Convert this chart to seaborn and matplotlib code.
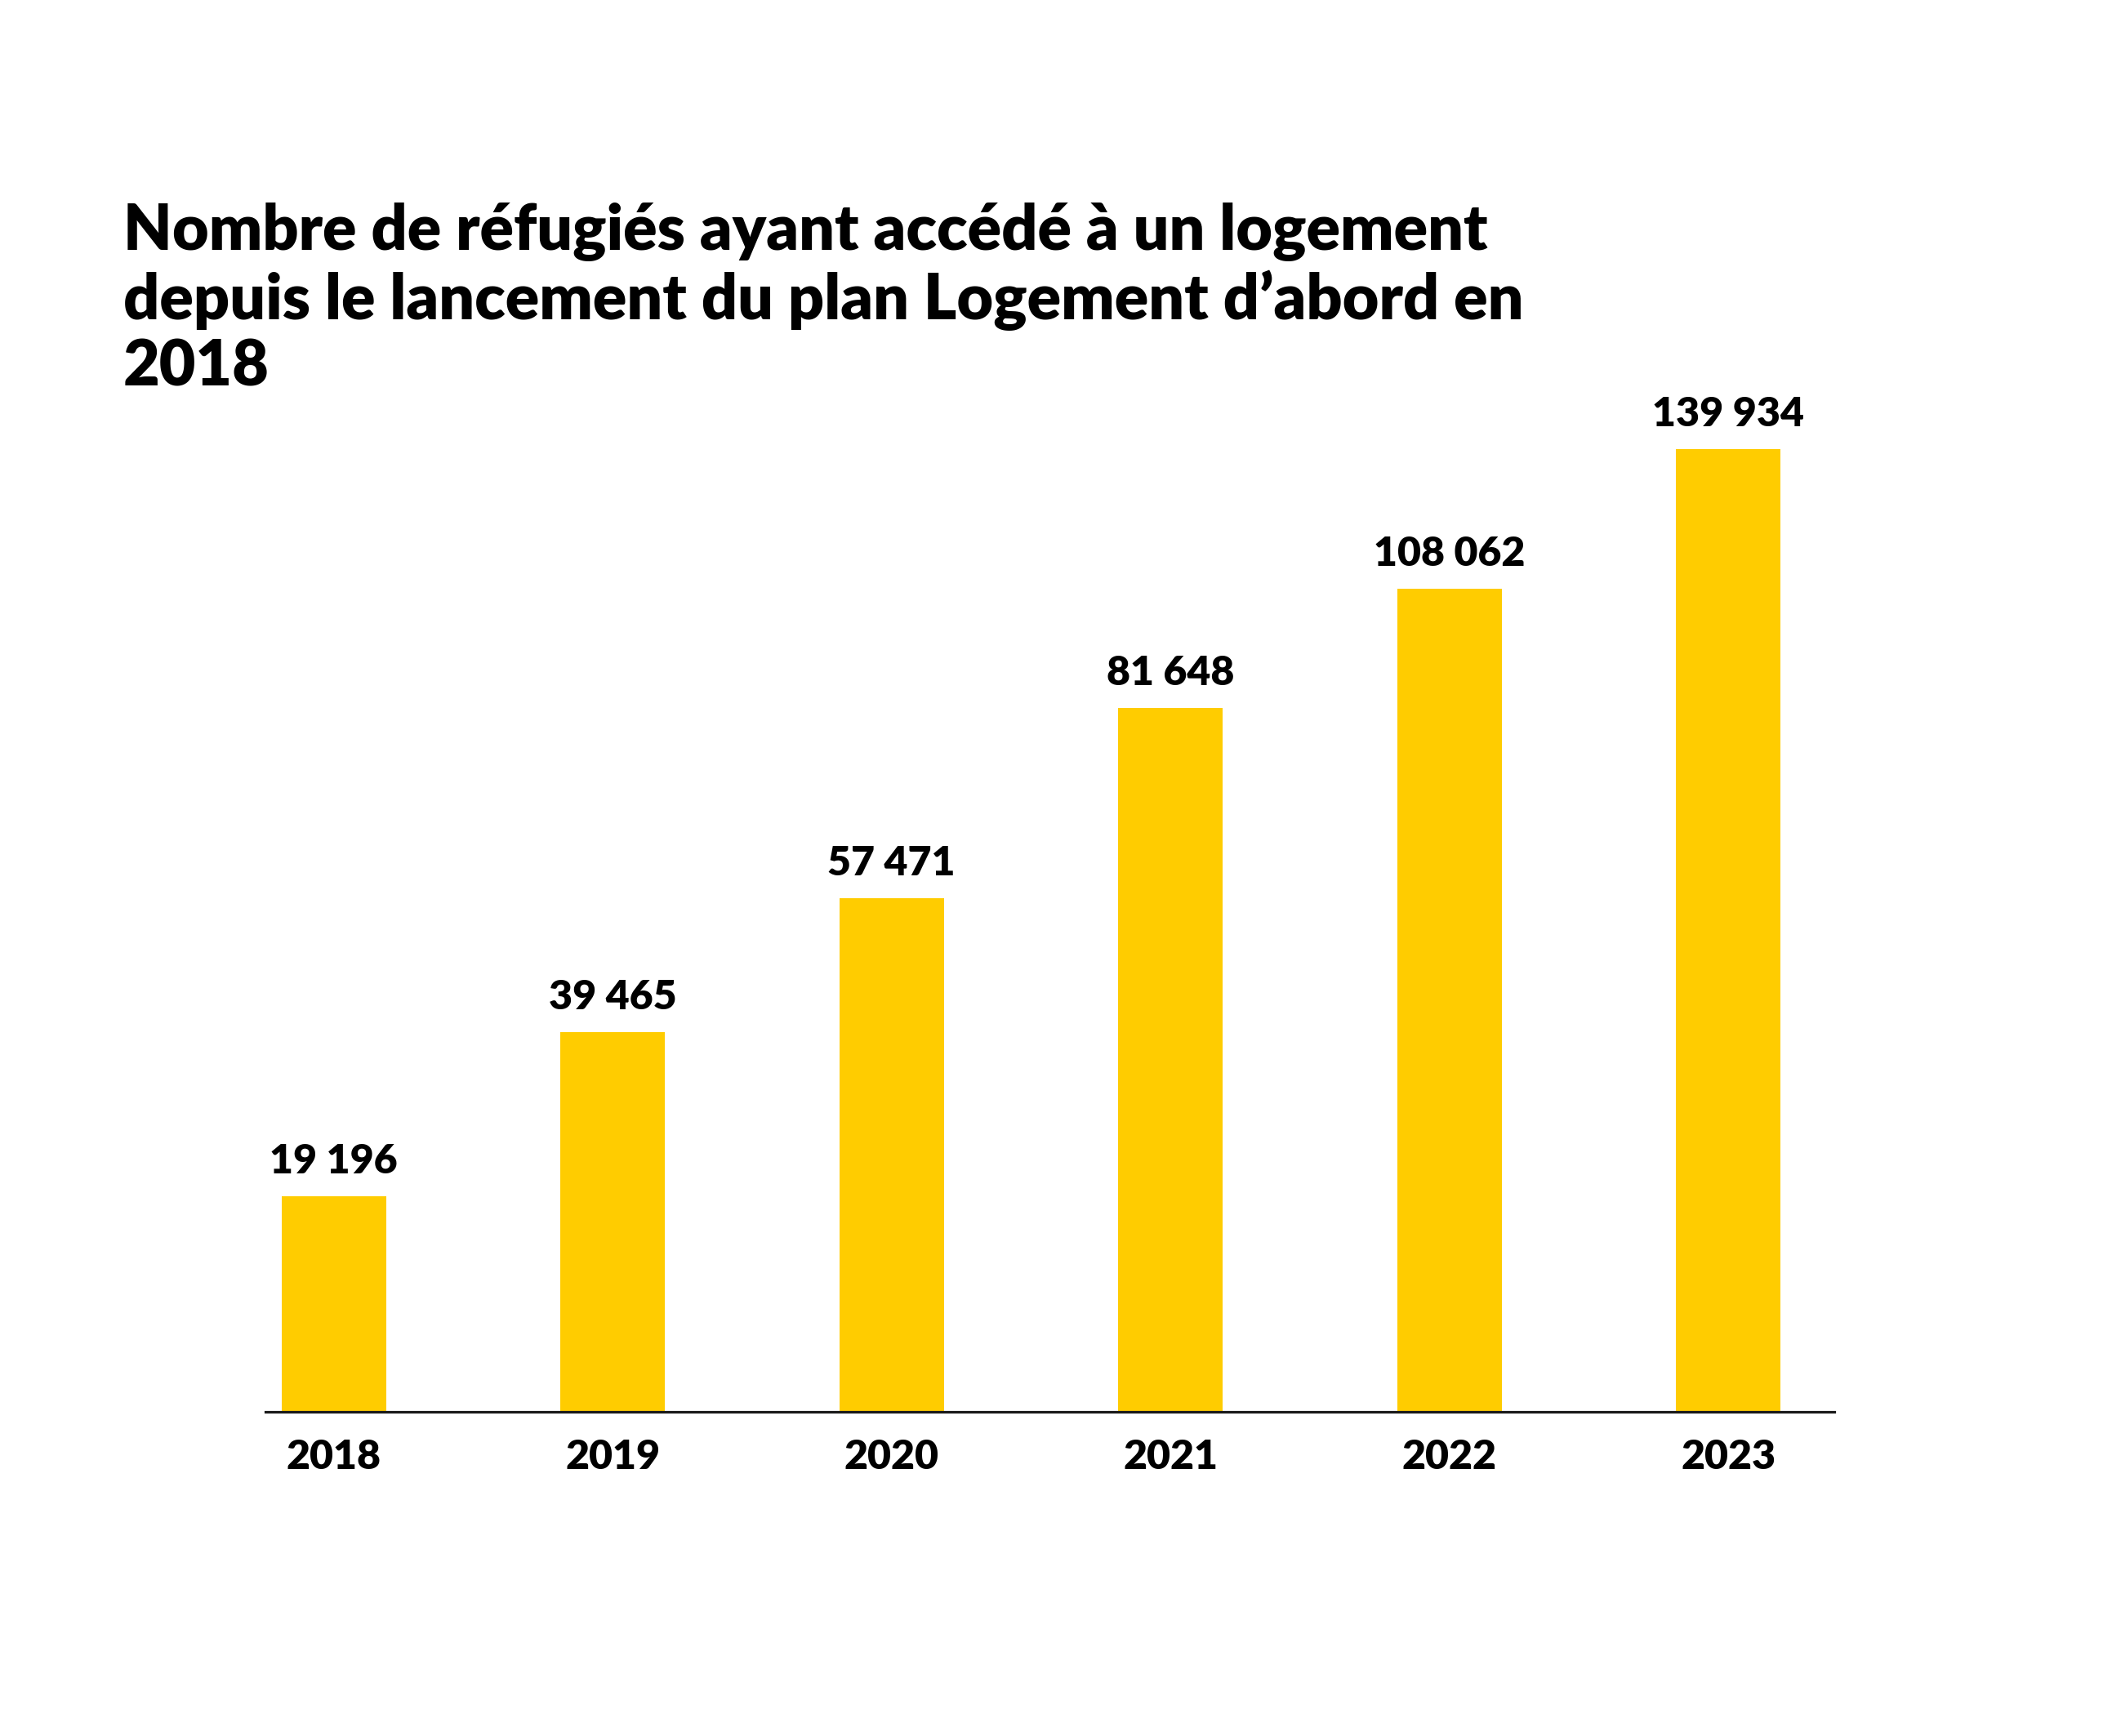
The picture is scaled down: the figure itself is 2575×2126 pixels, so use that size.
import matplotlib
matplotlib.use("Agg")
import matplotlib.pyplot as plt
import seaborn as sns
import pandas as pd

# --- data -------------------------------------------------------------
years = ["2018", "2019", "2020", "2021", "2022", "2023"]
values = [19196, 39465, 57471, 81648, 108062, 139934]
# bar heights as drawn in the reference (not proportional to the labels),
# expressed in the same units, with the 2023 bar = 139 934
bar_heights = [31330, 55190, 74650, 102310, 119640, 139934]
title = ("Nombre de réfugiés ayant accédé à un logement\n"
         "depuis le lancement du plan Logement d’abord en\n"
         "2018")

def fr(n):
    return f"{n:,}".replace(",", " ")

sns.set_theme(style="white")
plt.rcParams["font.family"] = ["Lato", "DejaVu Sans"]

W, H = 2575, 2126
DPI = 100
fig = plt.figure(figsize=(W / DPI, H / DPI), dpi=DPI, facecolor="white")

# axes in pixel coordinates
left, right, base, top = 325, 2246, 1729, 400
ax = fig.add_axes([left / W, (H - base) / H, (right - left) / W, (base - top) / H])

df = pd.DataFrame({"year": years, "height": bar_heights, "value": values})
sns.barplot(data=df, x="year", y="height", color="#FFCC00", saturation=1,
            width=0.375, ax=ax, edgecolor="none")

ax.set_xlim(-0.245, 5.38)
ax.set_ylim(0, bar_heights[-1] * (base - top) / 1179)

for i, (h, v) in enumerate(zip(bar_heights, values)):
    ax.annotate(fr(v), (i, h), xytext=(0, 20), textcoords="offset points",
                ha="center", va="baseline", fontsize=36, fontweight="heavy",
                color="#000000")

for s in ["top", "right", "left"]:
    ax.spines[s].set_visible(False)
ax.spines["bottom"].set_color("#1a1a1a")
ax.spines["bottom"].set_linewidth(2.3)
ax.set_yticks([])
ax.set_xlabel("")
ax.set_ylabel("")
ax.tick_params(axis="x", length=0, pad=24, labelsize=36)
for lab in ax.get_xticklabels():
    lab.set_fontweight("heavy")
    lab.set_color("#000000")

fig.text(151 / W, 1 - 248 / H, title, ha="left", va="top", fontsize=55.5,
         fontweight="heavy", color="#000000", linespacing=1.17)

fig.savefig("out.png", dpi=DPI, facecolor="white")
